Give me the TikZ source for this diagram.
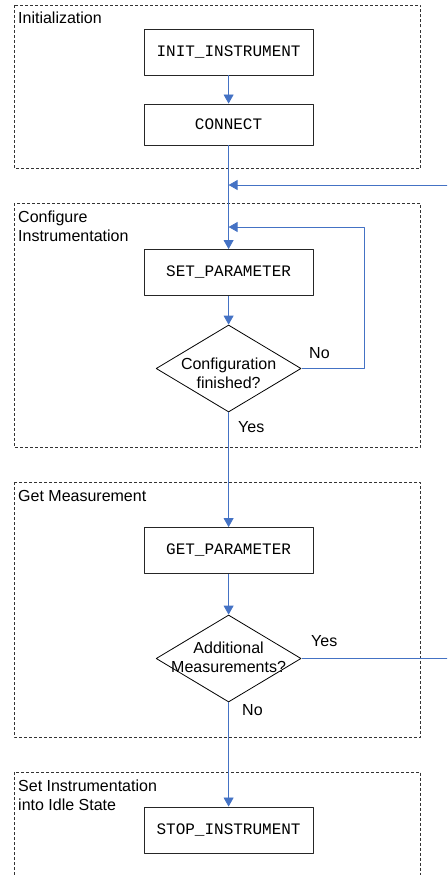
\documentclass[tikz,border=0pt]{standalone}
\usepackage{fontspec}
\setmainfont{Liberation Sans}
\newfontfamily\codefont{Liberation Mono}
\usetikzlibrary{shapes.geometric,arrows.meta}
\definecolor{flowblue}{RGB}{68,114,196}
\begin{document}
\begin{tikzpicture}[x=1pt,y=-1pt,line join=round,
    every node/.style={font=\fontsize{16}{18.5}\selectfont,inner sep=0pt},
    group/.style={draw=black!80,line width=0.8pt,dash pattern=on 3pt off 2pt},
    cmd/.style={draw=black!85,line width=0.9pt,minimum width=169pt,minimum height=46pt,font=\fontsize{16}{18.5}\codefont},
    test/.style={diamond,draw,line width=0.8pt,minimum width=145pt,minimum height=87pt},
    flow/.style={draw=flowblue,line width=0.8pt,-{Triangle[width=10pt,length=9pt,fill=flowblue]}},
    title/.style={anchor=base west,align=left}]
  \useasboundingbox (0,0) rectangle (447,875);
  \clip (0,0) rectangle (447,875);
  \def\xl{14} \def\xr{420.5} \def\xm{228.6}
  \draw[group] (\xl,5) rectangle (\xr,168);
  \draw[group] (\xl,203) rectangle (\xr,447);
  \draw[group] (\xl,482) rectangle (\xr,737);
  \draw[group] (\xl,880) -- (\xl,772) -- (\xr,772) -- (\xr,880);
  \node[title] (initt) at (18,24) {Initialization};
  \node[title] (cfgt) at (18,241) {Configure\\Instrumentation};
  \node[title] (gett) at (18,501) {Get Measurement};
  \node[title] (idlet) at (18,810) {Set Instrumentation\\into Idle State};
  \node[cmd] (init) at (\xm,52) {INIT\_INSTRUMENT};
  \node[cmd,minimum height=41pt] (connect) at (\xm,124.5) {CONNECT};
  \node[cmd] (setpar) at (\xm,272.5) {SET\_PARAMETER};
  \node[test,label={[align=center,yshift=-5pt]center:Configuration\\finished?}] (cfgdone) at (\xm,368.5) {};
  \node[cmd] (getpar) at (\xm,550.5) {GET\_PARAMETER};
  \node[test,label={[align=center,yshift=1pt]center:Additional\\Measurements?}] (moremeas) at (\xm,658.5) {};
  \node[cmd] (stop) at (\xm,830) {STOP\_INSTRUMENT};
  \coordinate (backin) at (\xm,185);
  \coordinate (loopin) at (\xm,227);
  \draw[flow] (init) -- (connect);
  \draw[flow] (connect) -- (setpar);
  \draw[flow] (setpar) -- (cfgdone);
  \draw[flow] (cfgdone.east) -- ++(63,0) |- (loopin);
  \draw[flow] (cfgdone) -- (getpar);
  \draw[flow] (getpar) -- (moremeas);
  \draw[flow] (moremeas.east) -- ++(160,0) |- (backin);
  \draw[flow] (moremeas) -- (stop);
  \node[anchor=base west] (nocfg) at (309,358.3) {No};
  \node[anchor=base west] (yescfg) at (238,432.7) {Yes};
  \node[anchor=base west] (yesmore) at (311,646) {Yes};
  \node[anchor=base west] (nomore) at (242,715.7) {No};
\end{tikzpicture}
\end{document}
